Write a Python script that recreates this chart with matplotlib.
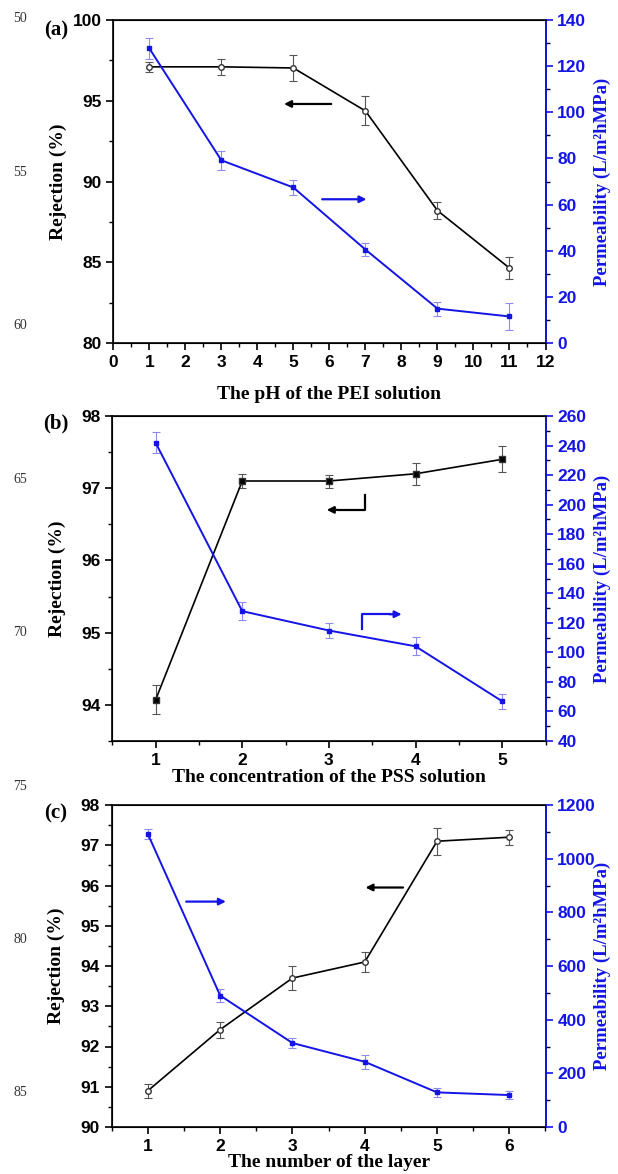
import numpy as np
import matplotlib.pyplot as plt
from matplotlib.ticker import MultipleLocator

plt.rcParams['font.family'] = ['Liberation Sans', 'DejaVu Sans']

# ---- data -----------------------------------------------------------
ph = [1, 3, 5, 7, 9, 11]
ph_rej = [97.1, 97.1, 97.03, 94.37, 88.2, 84.64]
ph_rej_err = [0.31, 0.5, 0.8, 0.9, 0.5, 0.7]
ph_perm = [127.7, 79.2, 67.4, 40.5, 14.9, 11.5]
ph_perm_err = [4.5, 4, 3.2, 2.7, 3, 6]

conc = [1, 2, 3, 4, 5]
conc_rej = [94.07, 97.1, 97.1, 97.2, 97.4]
conc_rej_err = [0.2, 0.1, 0.09, 0.15, 0.18]
conc_perm = [241.9, 127.9, 114.8, 104.1, 66.9]
conc_perm_err = [7, 6, 5.2, 6, 5]

layer = [1, 2, 3, 4, 5, 6]
layer_rej = [90.9, 92.42, 93.7, 94.1, 97.1, 97.2]
layer_rej_err = [0.18, 0.2, 0.3, 0.25, 0.33, 0.19]
layer_perm = [1092, 490, 313, 243, 129, 119]
layer_perm_err = [17, 25, 19, 26, 16, 14]

line_numbers = ['50', '55', '60', '65', '70', '75', '80', '85']
# ---------------------------------------------------------------------

BLUE = '#1414e6'
serif = ['Liberation Serif', 'DejaVu Serif']

fig = plt.figure(figsize=(6.18, 11.74), dpi=100)
W = 618.0
H = 1174.0


def make_axes(top, bottom, left, right=545.5):
    return fig.add_axes([left / W, 1 - bottom / H, (right - left) / W, (bottom - top) / H])


def style(ax, ax2):
    for a in (ax, ax2):
        a.tick_params(which='major', direction='out', length=5, width=1.2)
        a.tick_params(which='minor', direction='out', length=3, width=1.0)
    ax.tick_params(axis='both', labelsize=12.5)
    for lab in ax.get_xticklabels() + ax.get_yticklabels():
        lab.set_fontweight('bold')
    ax2.tick_params(axis='y', colors=BLUE, labelsize=12.5)
    for lab in ax2.get_yticklabels():
        lab.set_fontweight('bold')
    ax2.spines['right'].set_color(BLUE)
    for s in ax.spines.values():
        s.set_linewidth(1.2)
    ax2.spines['right'].set_linewidth(1.2)
    ax.set_ylabel('Rejection (%)', family=serif, fontweight='bold', fontsize=14)
    ax.yaxis.set_label_coords(-0.108, 0.5)
    ax2.set_ylabel('Permeability (L/m\u00b2hMPa)', family=serif,
                   fontweight='bold', fontsize=13.5, color=BLUE)
    ax2.yaxis.set_label_coords(1.112, 0.5)


def draw(ax, ax2, x, rej, rej_err, perm, perm_err, black_marker, black_fill):
    ax.errorbar(x, rej, yerr=rej_err, color='black', lw=1.2, marker=black_marker,
                ms=4, mfc=black_fill, mec='#333333', ecolor='#555555',
                elinewidth=0.8, capsize=3, capthick=0.8, zorder=3)
    ax2.errorbar(x, perm, yerr=perm_err, color=BLUE, lw=1.4, marker='s', ms=3.5,
                 mfc=BLUE, mec=BLUE, ecolor='#8c8cf0', elinewidth=0.8,
                 capsize=3, capthick=0.8, zorder=3)


def arrow(ax, x0, y0, x1, y1, color):
    ax.annotate('', xy=(x1, y1), xytext=(x0, y0),
                arrowprops=dict(arrowstyle='-|>', color=color, lw=1.6,
                                mutation_scale=10, shrinkA=0, shrinkB=0))


# (a) pH of PEI
ax = make_axes(20, 343, 113.3)
ax2 = ax.twinx()
draw(ax, ax2, ph, ph_rej, ph_rej_err, ph_perm, ph_perm_err, 'o', 'white')
ax.set_xlim(0, 12)
ax.set_ylim(80, 100)
ax2.set_ylim(0, 140)
ax.xaxis.set_major_locator(MultipleLocator(1))
ax.xaxis.set_minor_locator(MultipleLocator(0.5))
ax.yaxis.set_major_locator(MultipleLocator(5))
ax.yaxis.set_minor_locator(MultipleLocator(2.5))
ax2.yaxis.set_major_locator(MultipleLocator(20))
ax2.yaxis.set_minor_locator(MultipleLocator(10))
style(ax, ax2)
ax.set_xlabel('The pH of the PEI solution', family=serif, fontweight='bold',
              fontsize=14, labelpad=12)
arrow(ax, 6.05, 94.8, 4.74, 94.8, 'black')
arrow(ax2, 5.8, 62.3, 7.03, 62.3, BLUE)
fig.text(56 / W, 1 - 30 / H, '(a)', family=serif, fontweight='bold', fontsize=15,
         ha='center', va='center')

# (b) PSS concentration
ax = make_axes(416, 741, 112.3)
ax2 = ax.twinx()
draw(ax, ax2, conc, conc_rej, conc_rej_err, conc_perm, conc_perm_err, 's', 'black')
ax.set_xlim(0.5, 5.5)
ax.set_ylim(93.5, 98)
ax2.set_ylim(40, 260)
ax.xaxis.set_major_locator(MultipleLocator(1))
ax.xaxis.set_minor_locator(MultipleLocator(0.5))
ax.yaxis.set_major_locator(MultipleLocator(1))
ax.yaxis.set_minor_locator(MultipleLocator(0.5))
ax2.yaxis.set_major_locator(MultipleLocator(20))
ax2.yaxis.set_minor_locator(MultipleLocator(10))
style(ax, ax2)
ax.set_xlabel('The concentration of the PSS solution', family=serif,
              fontweight='bold', fontsize=14, labelpad=1)
ax.plot([3.42, 3.42, 3.1], [96.9, 96.7, 96.7], color='black', lw=1.6)
arrow(ax, 3.1, 96.7, 2.975, 96.7, 'black')
ax2.plot([3.38, 3.38, 3.7], [116.1, 125.8, 125.8], color=BLUE, lw=1.6)
arrow(ax2, 3.7, 125.8, 3.84, 125.8, BLUE)
fig.text(56 / W, 1 - 423 / H, '(b)', family=serif, fontweight='bold', fontsize=15,
         ha='center', va='center')

# (c) number of layers
ax = make_axes(805, 1127, 111.7)
ax2 = ax.twinx()
draw(ax, ax2, layer, layer_rej, layer_rej_err, layer_perm, layer_perm_err, 'o', 'white')
ax.set_xlim(0.5, 6.5)
ax.set_ylim(90, 98)
ax2.set_ylim(0, 1200)
ax.xaxis.set_major_locator(MultipleLocator(1))
ax.xaxis.set_minor_locator(MultipleLocator(0.5))
ax.yaxis.set_major_locator(MultipleLocator(1))
ax.yaxis.set_minor_locator(MultipleLocator(0.5))
ax2.yaxis.set_major_locator(MultipleLocator(200))
ax2.yaxis.set_minor_locator(MultipleLocator(100))
style(ax, ax2)
ax.set_xlabel('The number of the layer', family=serif, fontweight='bold',
              fontsize=14, labelpad=0)
arrow(ax, 4.53, 95.95, 4.01, 95.95, 'black')
arrow(ax2, 1.53, 840, 2.08, 840, BLUE)
fig.text(56 / W, 1 - 813 / H, '(c)', family=serif, fontweight='bold', fontsize=15,
         ha='center', va='center')

# manuscript line numbers on the left margin
for i, t in enumerate(line_numbers):
    fig.text(13 / W, 1 - (19 + i * 153.4) / H, t, family=serif, fontsize=10,
             color='#333333', ha='left', va='center')

fig.savefig('out.png', dpi=100)
